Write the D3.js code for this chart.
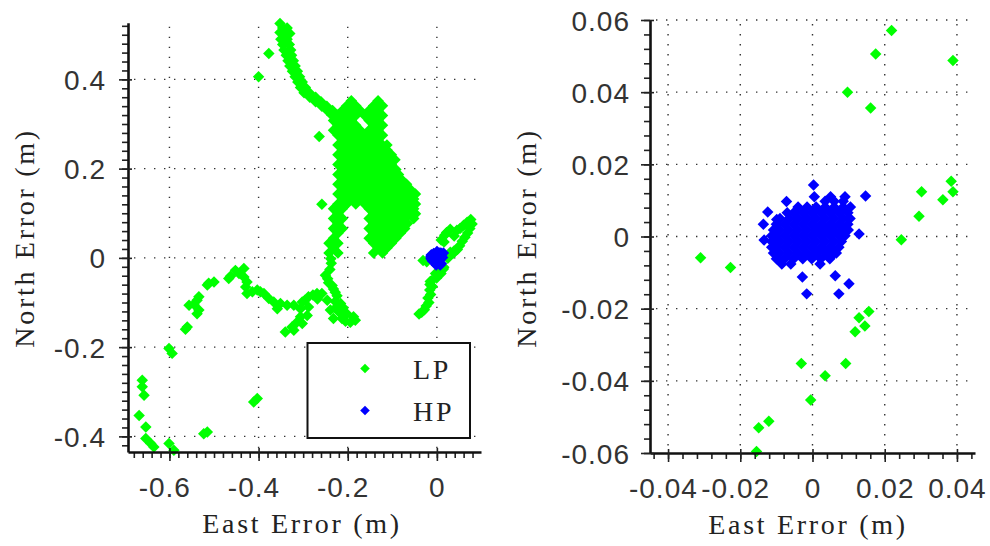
<!DOCTYPE html>
<html><head><meta charset="utf-8">
<script src="https://cdn.jsdelivr.net/npm/d3@7"></script>
<style>body{margin:0;background:#fff}svg{display:block}</style>
</head><body>
<svg id="c" width="990" height="546"></svg>
<script>
// ---------------- DATA ----------------
const seriesNames = ["LP", "HP"];
const seriesColors = ["#00ff00", "#0000ff"];

// LP: upper diagonal track (east, north) in metres
const lpTopPath = [
 [-0.352,0.525],[-0.346,0.515],[-0.336,0.515],[-0.340,0.503],[-0.330,0.503],[-0.352,0.505],
 [-0.350,0.490],[-0.336,0.490],[-0.346,0.478],[-0.331,0.478],[-0.343,0.466],[-0.328,0.466],
 [-0.338,0.454],[-0.326,0.454],[-0.334,0.442],[-0.322,0.442],[-0.330,0.430],[-0.318,0.430],
 [-0.324,0.418],[-0.313,0.418],[-0.318,0.406],[-0.308,0.406],[-0.312,0.394],[-0.302,0.394],
 [-0.306,0.382],[-0.295,0.382],[-0.298,0.370],[-0.286,0.370],[-0.285,0.360],[-0.272,0.360],
 [-0.272,0.350],[-0.260,0.350],[-0.258,0.340],[-0.247,0.340],[-0.246,0.330],[-0.234,0.330],
 [-0.236,0.320],[-0.222,0.320],
 [-0.377,0.458],[-0.400,0.406],[-0.264,0.272],[-0.258,0.120]
];

// LP: main cluster, rows of [north, [east...]]
const lpBlobRows = [
 [0.352,[-0.192,-0.132]],
 [0.341,[-0.202,-0.182,-0.142,-0.122]],
 [0.330,[-0.212,-0.192,-0.172,-0.152,-0.132]],
 [0.319,[-0.222,-0.202,-0.182,-0.162,-0.142,-0.122]],
 [0.308,[-0.232,-0.212,-0.192,-0.152,-0.132]],
 [0.297,[-0.222,-0.202,-0.182,-0.142,-0.122]],
 [0.286,[-0.232,-0.212,-0.192,-0.172,-0.152,-0.132]],
 [0.275,[-0.222,-0.202,-0.182,-0.162,-0.142,-0.122]],
 [0.264,[-0.212,-0.192,-0.172,-0.152,-0.132]],
 [0.253,[-0.222,-0.202,-0.182,-0.162,-0.142,-0.122,-0.112]],
 [0.242,[-0.212,-0.192,-0.172,-0.152,-0.132,-0.112]],
 [0.231,[-0.222,-0.202,-0.182,-0.162,-0.142,-0.122,-0.102]],
 [0.220,[-0.212,-0.192,-0.172,-0.152,-0.132,-0.112,-0.094]],
 [0.209,[-0.222,-0.202,-0.182,-0.162,-0.142,-0.122,-0.102]],
 [0.198,[-0.212,-0.192,-0.172,-0.152,-0.132,-0.112,-0.092]],
 [0.187,[-0.222,-0.202,-0.182,-0.162,-0.142,-0.122,-0.102,-0.086]],
 [0.176,[-0.212,-0.192,-0.172,-0.152,-0.132,-0.112,-0.092,-0.080]],
 [0.165,[-0.222,-0.202,-0.182,-0.162,-0.142,-0.122,-0.102,-0.082,-0.068]],
 [0.154,[-0.212,-0.192,-0.172,-0.152,-0.132,-0.112,-0.092,-0.072,-0.060]],
 [0.143,[-0.222,-0.202,-0.182,-0.162,-0.142,-0.122,-0.102,-0.082,-0.062,-0.048]],
 [0.132,[-0.212,-0.192,-0.172,-0.152,-0.132,-0.112,-0.092,-0.072,-0.052]],
 [0.121,[-0.222,-0.202,-0.182,-0.162,-0.142,-0.122,-0.102,-0.082,-0.062,-0.048]],
 [0.110,[-0.232,-0.212,-0.152,-0.132,-0.112,-0.092,-0.072,-0.052]],
 [0.099,[-0.222,-0.142,-0.122,-0.102,-0.082,-0.062,-0.048]],
 [0.088,[-0.232,-0.212,-0.152,-0.132,-0.112,-0.092,-0.072,-0.052]],
 [0.077,[-0.222,-0.142,-0.122,-0.102,-0.082,-0.066]],
 [0.066,[-0.232,-0.212,-0.152,-0.132,-0.112,-0.092,-0.072]],
 [0.055,[-0.222,-0.142,-0.122,-0.102,-0.082]],
 [0.044,[-0.232,-0.152,-0.132,-0.112,-0.092]],
 [0.033,[-0.242,-0.222,-0.142,-0.122,-0.102]],
 [0.022,[-0.232,-0.132,-0.112]],
 [0.011,[-0.242,-0.222,-0.142,-0.122]]
];

// LP: lower wandering track
const lpLowerPath = [
 [-0.238,-0.002],[-0.237,-0.012],[-0.240,-0.026],[-0.250,-0.039],[-0.245,-0.047],[-0.243,-0.056],
 [-0.235,-0.062],[-0.232,-0.070],[-0.228,-0.077],[-0.224,-0.085],[-0.246,-0.095],[-0.228,-0.098],
 [-0.216,-0.102],[-0.239,-0.117],[-0.225,-0.110],[-0.210,-0.112],[-0.220,-0.121],[-0.202,-0.125],
 [-0.187,-0.132],[-0.194,-0.144],[-0.232,-0.136],[-0.213,-0.136],[-0.183,-0.140],[-0.205,-0.142],
 [-0.258,-0.080],[-0.269,-0.080],[-0.268,-0.092],[-0.278,-0.083],[-0.288,-0.087],[-0.296,-0.095],
 [-0.302,-0.099],[-0.321,-0.106],[-0.306,-0.114],[-0.288,-0.110],[-0.291,-0.129],[-0.306,-0.132],
 [-0.314,-0.144],[-0.302,-0.147],[-0.325,-0.155],[-0.340,-0.166],[-0.321,-0.162],[-0.336,-0.106],
 [-0.351,-0.102],[-0.358,-0.114],[-0.366,-0.099],[-0.377,-0.091],[-0.388,-0.080],[-0.396,-0.076],
 [-0.403,-0.072],[-0.414,-0.076],[-0.426,-0.080],[-0.429,-0.065],[-0.426,-0.054],[-0.433,-0.043],
 [-0.444,-0.035],[-0.433,-0.024],[-0.452,-0.028],[-0.463,-0.041],[-0.467,-0.046],
 [-0.500,-0.054],[-0.512,-0.057],[-0.515,-0.061],[-0.534,-0.087],[-0.538,-0.095],[-0.545,-0.104],
 [-0.556,-0.106],[-0.534,-0.117],[-0.538,-0.125],[-0.560,-0.155],[-0.564,-0.160],
 [-0.601,-0.203],[-0.594,-0.214],[-0.661,-0.274],[-0.661,-0.289],[-0.657,-0.308],
 [-0.668,-0.353],[-0.653,-0.379],[-0.653,-0.405],[-0.642,-0.416],[-0.635,-0.424],
 [-0.601,-0.416],[-0.590,-0.431],[-0.515,-0.390],[-0.523,-0.394],[-0.411,-0.323],[-0.403,-0.315]
];

// LP: points around the origin (also the only LP points in the zoomed panel)
const lpNearOrigin = [
 [0.0219,0.0571],[0.0175,0.0506],[0.0389,0.0488],[0.0097,0.0400],[0.0161,0.0356],
 [0.0384,0.0153],[0.0389,0.0124],[0.0302,0.0124],[0.0361,0.0102],[0.0295,0.0056],
 [0.0246,-0.0009],[-0.0310,-0.0059],[-0.0227,-0.0086],[0.0156,-0.0208],[0.0129,-0.0225],
 [0.0145,-0.0248],[0.0118,-0.0264],[-0.0031,-0.0352],[0.0092,-0.0352],[0.0035,-0.0386],
 [-0.0005,-0.0453],[-0.0121,-0.0512],[-0.0149,-0.0530],[-0.0155,-0.0596],
 [0.030,0.064],[0.045,0.062],[0.052,0.066],[0.060,0.073],[0.068,0.080],[0.076,0.086],
 [0.079,0.076],[0.074,0.066],[0.069,0.056],[0.063,0.046],[0.057,0.037],[0.051,0.027],[0.046,0.019],
 [-0.010,-0.064],[-0.016,-0.072],[-0.014,-0.082],[-0.020,-0.090],[-0.018,-0.100],
 [-0.024,-0.108],[-0.028,-0.116],[-0.034,-0.122],[-0.040,-0.126]
];

// HP: dense core, rows of [north, [east...]], plus scattered points
const hpRows = [
 [0.0110,[0.0005,0.0050,0.0090]],
 [0.0098,[0.0035,0.0060,0.0085]],
 [0.0082,[-0.0040,-0.0015,0.0010,0.0035,0.0060,0.0085,0.0105]],
 [0.0066,[-0.0070,-0.0052,-0.0027,-0.0002,0.0023,0.0048,0.0073,0.0098]],
 [0.0050,[-0.0090,-0.0065,-0.0040,-0.0015,0.0010,0.0035,0.0060,0.0085,0.0104]],
 [0.0034,[-0.0100,-0.0077,-0.0052,-0.0027,-0.0002,0.0023,0.0048,0.0073,0.0098]],
 [0.0018,[-0.0108,-0.0090,-0.0065,-0.0040,-0.0015,0.0010,0.0035,0.0060,0.0085,0.0099]],
 [0.0002,[-0.0113,-0.0102,-0.0077,-0.0052,-0.0027,-0.0002,0.0023,0.0048,0.0073,0.0090]],
 [-0.0014,[-0.0113,-0.0090,-0.0065,-0.0040,-0.0015,0.0010,0.0035,0.0060,0.0080]],
 [-0.0030,[-0.0113,-0.0102,-0.0077,-0.0052,-0.0027,-0.0002,0.0023,0.0048,0.0073]],
 [-0.0046,[-0.0108,-0.0090,-0.0065,-0.0040,-0.0015,0.0010,0.0035,0.0060,0.0066]],
 [-0.0062,[-0.0100,-0.0077,-0.0052,-0.0027,-0.0002,0.0023,0.0048]],
 [-0.0076,[-0.0085,-0.0060,0.0021]]
];
const hpScatter = [
 [0.0003,0.0143],[0.0147,0.0112],[-0.0072,0.0097],[-0.0124,0.0068],[-0.0136,0.0034],
 [-0.0099,0.0047],[0.0129,0.0007],[-0.0134,-0.0010],[-0.0028,-0.0112],[0.0063,-0.0109],
 [0.0101,-0.0131],[-0.0016,-0.0159],[0.0073,-0.0159]
];

// axes
const leftXTicks = [-0.6,-0.4,-0.2,0];
const leftXTickLabels = ["-0.6","-0.4","-0.2","0"];
const leftYTicks = [-0.4,-0.2,0,0.2,0.4];
const leftYTickLabels = ["-0.4","-0.2","0","0.2","0.4"];
const rightXTicks = [-0.04,-0.02,0,0.02,0.04];
const rightXTickLabels = ["-0.04","-0.02","0","0.02","0.04"];
const rightYTicks = [-0.06,-0.04,-0.02,0,0.02,0.04,0.06];
const rightYTickLabels = ["-0.06","-0.04","-0.02","0","0.02","0.04","0.06"];
const xTitle = "East Error (m)";
const yTitle = "North Error (m)";

// ---------------- BUILD ----------------
const rowsToPts = rows => rows.flatMap(([y, xs]) => xs.map(x => [x, y]));
const lpData = [].concat(lpTopPath, rowsToPts(lpBlobRows), lpLowerPath, lpNearOrigin);
const hpData = [].concat(rowsToPts(hpRows), hpScatter);

const svg = d3.select("#c");
const TICK_FONT = "'Liberation Sans', Arial, sans-serif";
const SERIF = "'Liberation Serif', 'Times New Roman', serif";

const measurer = svg.append("text").attr("font-family", TICK_FONT).attr("font-size", 28)
  .attr("letter-spacing", 1).attr("visibility", "hidden").text("-");
const minusW = measurer.node().getComputedTextLength();
measurer.remove();

const diamond = d3.symbol().type(d3.symbolSquare).size(66);
const diamondSmall = d3.symbol().type(d3.symbolSquare).size(46);

function panel(cfg) {
  const x = d3.scaleLinear().domain(cfg.xDomain).range(cfg.xRange);
  const y = d3.scaleLinear().domain(cfg.yDomain).range(cfg.yRange);
  const g = svg.append("g");
  const [x0, x1] = cfg.xRange, [yb, yt] = cfg.yRange;

  // dotted grid
  const grid = g.append("g").attr("stroke", "#333").attr("stroke-width", 1.4)
     .attr("stroke-dasharray", "1.4,8.6").attr("fill", "none");
  grid.selectAll(".vg").data(cfg.xTicks).join("line")
    .attr("x1", d => x(d)).attr("x2", d => x(d)).attr("y1", yt + 4).attr("y2", yb);
  grid.selectAll(".hg").data(cfg.gridY).join("line")
    .attr("y1", d => y(d)).attr("y2", d => y(d)).attr("x1", x0 + 6).attr("x2", x1);

  // data
  const inside = d => d[0] >= cfg.xDomain[0] && d[0] <= cfg.xDomain[1] &&
                      d[1] >= cfg.yDomain[0] && d[1] <= cfg.yDomain[1];
  [[lpData, seriesColors[0]], [hpData, seriesColors[1]]].forEach(([data, col]) => {
    g.append("g").selectAll("path").data(data.filter(inside)).join("path")
      .attr("d", diamond)
      .attr("transform", d => `translate(${x(d[0])},${y(d[1])}) rotate(45)`)
      .attr("fill", col);
  });

  // minor ticks
  const minorX = g.append("g").attr("transform", `translate(0,${yb})`)
    .call(d3.axisBottom(x).tickValues(cfg.minorX).tickFormat("").tickSize(6).tickSizeOuter(0));
  minorX.select(".domain").remove();
  const minorY = g.append("g").attr("transform", `translate(${x0},0)`)
    .call(d3.axisLeft(y).tickValues(cfg.minorY).tickFormat("").tickSize(6).tickSizeOuter(0));
  minorY.select(".domain").remove();

  // major axes
  const ax = g.append("g").attr("transform", `translate(0,${yb})`)
    .call(d3.axisBottom(x).tickValues(cfg.xTicks).tickFormat((d, i) => cfg.xLabels[i])
      .tickSize(9).tickSizeOuter(0));
  const ay = g.append("g").attr("transform", `translate(${x0},0)`)
    .call(d3.axisLeft(y).tickValues(cfg.yTicks).tickFormat((d, i) => cfg.yLabels[i])
      .tickSize(9).tickSizeOuter(0));

  [ax, ay, minorX, minorY].forEach(a => {
    a.attr("font-family", TICK_FONT).attr("font-size", 28);
    a.selectAll("line").attr("stroke", "#222").attr("stroke-width", 1.6);
    a.select(".domain").attr("stroke", "#111").attr("stroke-width", 2.6);
  });
  ax.selectAll(".tick line").attr("y1", -4);
  ay.selectAll(".tick line").attr("x1", 4);
  ax.selectAll(".tick text").attr("y", 45).attr("dy", 0).attr("fill", "#333")
    .attr("letter-spacing", 1)
    .attr("dx", function () { return this.textContent.startsWith("-") ? -minusW / 2 : 0; });
  ay.selectAll(".tick text").attr("x", -cfg.yLabelGap).attr("dy", "0.36em").attr("fill", "#333")
    .attr("letter-spacing", 1);

  // titles
  svg.append("text").attr("x", cfg.xTitlePos[0]).attr("y", cfg.xTitlePos[1])
    .attr("text-anchor", "middle").attr("font-family", SERIF).attr("font-size", 28)
    .attr("letter-spacing", 2.7).attr("fill", "#222").text(xTitle);
  svg.append("text").attr("transform", `translate(${cfg.yTitlePos[0]},${cfg.yTitlePos[1]}) rotate(-90)`)
    .attr("text-anchor", "middle").attr("font-family", SERIF).attr("font-size", 28)
    .attr("letter-spacing", 2.7).attr("fill", "#222").text(yTitle);
  return { x, y, g };
}

const minor = (a, b, s) => d3.range(Math.round(a / s), Math.round(b / s) + 1).map(k => +(k * s).toFixed(4));

panel({
  xDomain: [-0.693, 0.099], xRange: [128, 481],
  yDomain: [-0.435, 0.527], yRange: [452, 22.7],
  xTicks: leftXTicks, xLabels: leftXTickLabels,
  yTicks: leftYTicks, yLabels: leftYTickLabels,
  gridY: leftYTicks,
  minorX: minor(-0.68, 0.08, 0.02), minorY: minor(-0.42, 0.52, 0.02),
  yLabelGap: 22,
  xTitlePos: [302, 533], yTitlePos: [34, 238]
});

panel({
  xDomain: [-0.045, 0.045], xRange: [650, 975],
  yDomain: [-0.06, 0.06], yRange: [453, 20],
  xTicks: rightXTicks, xLabels: rightXTickLabels,
  yTicks: rightYTicks, yLabels: rightYTickLabels,
  gridY: rightYTicks.filter(v => v !== -0.06),
  minorX: minor(-0.044, 0.044, 0.004), minorY: minor(-0.06, 0.06, 0.004),
  yLabelGap: 20,
  xTitlePos: [808, 534], yTitlePos: [536, 238]
});

// legend (left panel)
const lg = svg.append("g");
lg.append("rect").attr("x", 307.5).attr("y", 343).attr("width", 162.5).attr("height", 95)
  .attr("fill", "#fff").attr("stroke", "#111").attr("stroke-width", 2);
seriesNames.forEach((name, i) => {
  const cy = 368.5 + i * 42;
  lg.append("path").attr("d", diamondSmall).attr("transform", `translate(365,${cy}) rotate(45)`)
    .attr("fill", seriesColors[i]);
  lg.append("text").attr("x", 413).attr("y", cy + 10).attr("font-family", SERIF)
    .attr("font-size", 28).attr("letter-spacing", 2.7).attr("fill", "#222").text(name);
});
</script>
</body></html>
